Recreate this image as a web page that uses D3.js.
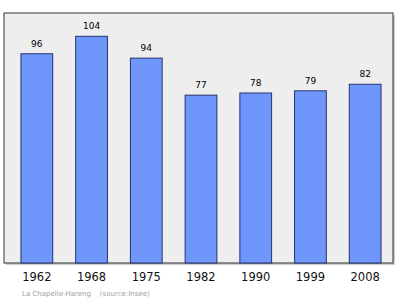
<!DOCTYPE html>
<html><head><meta charset="utf-8">
<script src="https://cdn.jsdelivr.net/npm/d3@7"></script>
<style>html,body{margin:0;padding:0;background:#fff;}svg{display:block;}</style>
</head><body>
<script>
const years = ["1962","1968","1975","1982","1990","1999","2008"];
const population = [96,104,94,77,78,79,82];
const footer = "La Chapelle-Hareng    (source:Insee)";

const W = 400, H = 299;
const frame = {x0: 4, y0: 13, x1: 393, y1: 263};
const svg = d3.select("body").append("svg").attr("width", W).attr("height", H);

const x = d3.scaleBand().domain(years).range([4, 398]).paddingInner(0.42).paddingOuter(0.31);
const y = d3.scaleLinear().domain([0, 114.7]).range([frame.y1, frame.y0]);

// shadow
svg.append("rect").attr("x", frame.x0 + 2).attr("y", frame.y0 + 2)
  .attr("width", frame.x1 - frame.x0).attr("height", frame.y1 - frame.y0)
  .attr("fill", "#cccccc");
svg.append("rect").attr("x", frame.x0).attr("y", frame.y0)
  .attr("width", frame.x1 - frame.x0).attr("height", frame.y1 - frame.y0)
  .attr("fill", "#eeeeee").attr("stroke", "#333333").attr("stroke-width", 1);

const g = svg.append("g");
g.selectAll("rect.bar").data(population).join("rect").attr("class", "bar")
  .attr("x", (d, i) => x(years[i]))
  .attr("y", d => y(d))
  .attr("width", x.bandwidth())
  .attr("height", d => y(0) - y(d))
  .attr("fill", "#6f97fb").attr("stroke", "#25336e").attr("stroke-width", 1);

g.selectAll("text.val").data(population).join("text").attr("class", "val")
  .attr("x", (d, i) => x(years[i]) + x.bandwidth() / 2)
  .attr("y", d => y(d) - 7)
  .attr("text-anchor", "middle")
  .attr("font-family", "DejaVu Sans, sans-serif").attr("font-size", 9)
  .attr("fill", "#000").text(d => d);

const axis = d3.axisBottom(x).tickSize(0).tickPadding(0);
const ax = svg.append("g").attr("transform", `translate(0,${frame.y1})`).call(axis);
ax.select(".domain").remove();
ax.selectAll("text").attr("dy", null).attr("y", 18)
  .attr("font-family", "DejaVu Sans, sans-serif").attr("font-size", 11.5).attr("fill", "#111");

svg.append("text").attr("x", 22).attr("y", 296)
  .attr("font-family", "DejaVu Sans, sans-serif").attr("font-size", 7)
  .attr("fill", "#a0a0a0").attr("xml:space", "preserve").style("white-space", "pre")
  .text(footer);
</script>
</body></html>
